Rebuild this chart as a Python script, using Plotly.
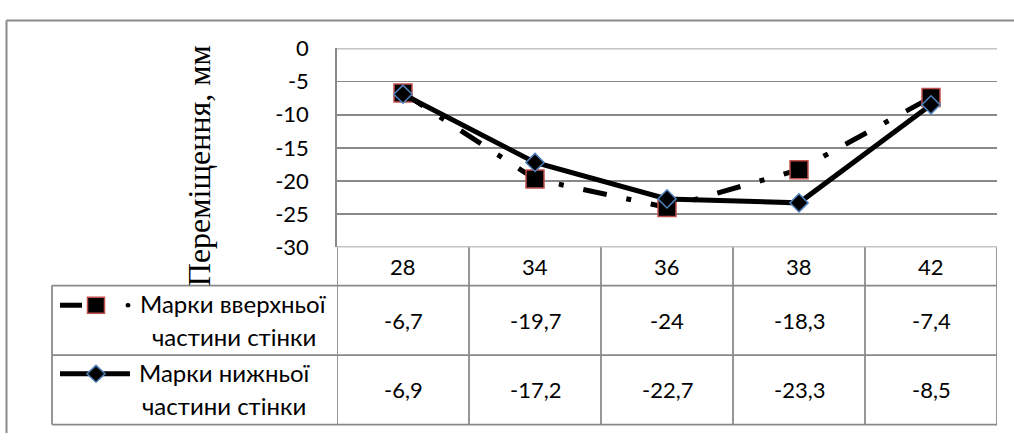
import plotly.graph_objects as go

# ---- data ----
categories = ["28", "34", "36", "38", "42"]
upper_name = ["Марки вверхньої", "частини стінки"]
lower_name = ["Марки нижньої", "частини стінки"]
upper_vals = [-6.7, -19.7, -24, -18.3, -7.4]
lower_vals = [-6.9, -17.2, -22.7, -23.3, -8.5]
y_ticks = [0, -5, -10, -15, -20, -25, -30]
y_title = "Переміщення, мм"

W, H = 1014, 446
GRID = "#898989"
RED = "#C0504D"
BLUE = "#4F81BD"
FONT = "Lato"


def px(x):
    return x / W


def py(y):
    return 1 - y / H


PLOT_L, PLOT_R, PLOT_T, PLOT_B = 337, 997, 36.7, 248.3
ROW1_B, ROW2_B = 363, 437
HEAD_B = 289
LEG_L = 52


def fmt(v):
    return f"{v:g}".replace(".", ",")


fig = go.Figure()

fig.add_trace(go.Scatter(
    x=categories, y=upper_vals, mode="lines+markers",
    line=dict(color="black", width=5, dash="24px,20px,5px,20px"),
    marker=dict(symbol="square", size=18, color="black",
                line=dict(color=RED, width=1.5)),
    showlegend=False,
))
fig.add_trace(go.Scatter(
    x=categories, y=lower_vals, mode="lines+markers",
    line=dict(color="black", width=5),
    marker=dict(symbol="diamond", size=14, color="black",
                line=dict(color=BLUE, width=1.5)),
    showlegend=False,
))

shapes = []
lw = 1.75
n = len(categories)


def pline(x0, y0, x1, y1, color=GRID, width=lw):
    shapes.append(dict(type="line", xref="paper", yref="paper",
                       x0=px(x0), x1=px(x1), y0=py(y0), y1=py(y1),
                       line=dict(color=color, width=width)))


# outer frame (left and top)
pline(6.5, 7, 6.5, 446, width=2)
pline(6.5, 7, 1014, 7, width=2)
# top / bottom gridlines of the value axis (edges of plot area)
for yv in (y_ticks[0], y_ticks[-1]):
    shapes.append(dict(type="line", xref="x", yref="y",
                       x0=-0.5, x1=n - 0.5, y0=yv, y1=yv,
                       line=dict(color=GRID, width=lw), layer="below"))
# table column boundaries
for i in range(n + 1):
    shapes.append(dict(type="line", xref="x", yref="paper",
                       x0=i - 0.5, x1=i - 0.5, y0=py(PLOT_B), y1=py(ROW2_B),
                       line=dict(color=GRID, width=lw)))
# legend column left boundary
pline(LEG_L, HEAD_B, LEG_L, ROW2_B)
# table horizontal lines
for yy in (HEAD_B, ROW1_B, ROW2_B):
    pline(LEG_L, yy, PLOT_R, yy)

# legend keys
pline(60, 310, 82, 310, color="black", width=5)
shapes.append(dict(type="rect", xref="paper", yref="paper",
                   x0=px(87.5), x1=px(104.5), y0=py(301.5), y1=py(318.5),
                   fillcolor="black", line=dict(color=RED, width=1.5)))
shapes.append(dict(type="circle", xref="paper", yref="paper",
                   x0=px(125.5), x1=px(130.5), y0=py(307.5), y1=py(312.5),
                   fillcolor="black", line=dict(width=0)))
pline(60, 383, 130, 383, color="black", width=5)
d = 9
shapes.append(dict(type="path", xref="paper", yref="paper",
                   path=(f"M {px(96 - d)} {py(383)} L {px(96)} {py(383 - d)} "
                         f"L {px(96 + d)} {py(383)} L {px(96)} {py(383 + d)} Z"),
                   fillcolor="black", line=dict(color=BLUE, width=1.5)))

annotations = []
# y title
annotations.append(dict(text=y_title, xref="paper", yref="paper",
                        x=px(199), y=py(162), textangle=-90, showarrow=False,
                        font=dict(family="Liberation Serif", size=32, color="black"),
                        xanchor="center", yanchor="middle"))
# header row + values (positioned by category index on the x axis)
for i, (c, u, l) in enumerate(zip(categories, upper_vals, lower_vals)):
    for txt, yc in ((c, 268.5), (fmt(u), 326), (fmt(l), 400)):
        annotations.append(dict(text=txt, xref="x", yref="paper", x=i, y=py(yc),
                                showarrow=False, xanchor="center", yanchor="middle",
                                font=dict(family=FONT, size=22, color="black")))
# legend labels
for txt, xc, yc in ((upper_name[0], 233, 308), (upper_name[1], 233.5, 343),
                    (lower_name[0], 225, 381.5), (lower_name[1], 224, 416.5)):
    annotations.append(dict(text=txt, xref="paper", yref="paper",
                            x=px(xc), y=py(yc), showarrow=False,
                            xanchor="center", yanchor="middle",
                            font=dict(family=FONT, size=24, color="black")))

fig.update_layout(
    width=W, height=H,
    margin=dict(l=0, r=0, t=0, b=0),
    paper_bgcolor="white", plot_bgcolor="white",
    hovermode=False,
    xaxis=dict(domain=[px(PLOT_L), px(PLOT_R)], type="category",
               range=[-0.5, n - 0.5],
               showticklabels=False, showgrid=False, zeroline=False,
               showline=False, fixedrange=True),
    yaxis=dict(domain=[py(PLOT_B), py(PLOT_T)], range=[y_ticks[-1], y_ticks[0]],
               tickvals=y_ticks, ticktext=[str(t) for t in y_ticks],
               showgrid=True, gridcolor=GRID, gridwidth=lw,
               zeroline=False, showline=True, linecolor=GRID, linewidth=lw,
               ticks="", ticklabelstandoff=22,
               tickfont=dict(family=FONT, size=22, color="black"),
               fixedrange=True),
    shapes=shapes,
    annotations=annotations,
)

fig.write_html("out.html",
               config={"displayModeBar": False, "staticPlot": True},
               post_script="document.body.style.margin='0';document.body.style.overflow='hidden';")
